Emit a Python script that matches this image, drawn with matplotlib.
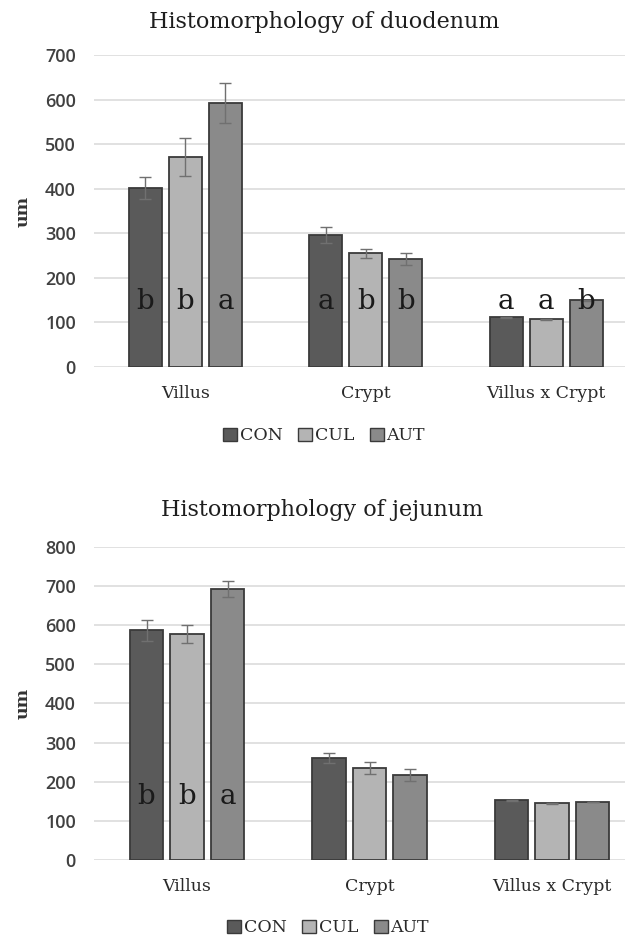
import matplotlib
matplotlib.use("Agg")
import matplotlib.pyplot as plt
import numpy as np
from matplotlib.patches import Patch

categories = ["Villus", "Crypt", "Villus x Crypt"]
groups = ["CON", "CUL", "AUT"]

# Duodenum means and standard errors (um)
duo_con = [401, 296, 112]
duo_cul = [471, 255, 107]
duo_aut = [592, 242, 150]
duo_con_err = [25, 18, 1]
duo_cul_err = [42, 10, 1]
duo_aut_err = [45, 13, 1]
duo_letters = [["b", "a", "a"], ["b", "b", "a"], ["a", "b", "b"]]
duo_letter_level = 146

# Jejunum means and standard errors (um)
jej_con = [587, 260, 153]
jej_cul = [577, 236, 145]
jej_aut = [692, 217, 148]
jej_con_err = [27, 13, 1]
jej_cul_err = [23, 15, 1]
jej_aut_err = [20, 15, 1]
jej_letters = [["b", "", ""], ["b", "", ""], ["a", "", ""]]
jej_letter_level = 161

colors = ["#5a5a5a", "#b4b4b4", "#8a8a8a"]
edge = "#3a3a3a"
serif = "DejaVu Serif"
sans = "Open Sans"

fig = plt.figure(figsize=(6.25, 9.41), dpi=100)


def panel(rect, title, means, errs, letters, level, ymax, xlim,
          title_xy, legend_xy):
    ax = fig.add_axes(rect)
    x = np.arange(len(categories))
    width = 0.182
    offsets = [-0.222, 0.0, 0.222]
    for i, (m, e) in enumerate(zip(means, errs)):
        xs = x + offsets[i]
        ax.bar(xs, m, width=width, color=colors[i], edgecolor=edge,
               linewidth=1.3, zorder=3, label=groups[i])
        ax.errorbar(xs, m, yerr=e, fmt="none", ecolor="#707070",
                    elinewidth=1.0, capsize=4, capthick=1.0, zorder=4)
        for j, lab in enumerate(letters[i]):
            if lab:
                ax.text(xs[j], level, lab, ha="center", va="center",
                        fontsize=20, family=serif, color="#1a1a1a", zorder=5)
    ax.set_ylim(0, ymax)
    ax.set_xlim(*xlim)
    ax.set_yticks(np.arange(0, ymax + 1, 100))
    ax.grid(axis="y", color="#dcdcdc", linewidth=1.2, zorder=0)
    ax.set_axisbelow(True)
    for s in ax.spines.values():
        s.set_visible(False)
    ax.tick_params(axis="y", length=0, pad=13, labelsize=13, labelcolor="#404040")
    for t in ax.get_yticklabels():
        t.set_family(sans)
        t.set_fontweight("semibold")
    ax.set_xticks(x)
    ax.set_xticklabels(categories, family=serif, fontsize=12.5, color="#2a2a2a")
    ax.tick_params(axis="x", length=0, pad=13)
    ax.set_ylabel("um", family=serif, fontsize=12.5, fontweight="bold",
                  color="#333333", labelpad=10)
    fig.text(title_xy[0], title_xy[1], title, ha="center", va="center",
             family=serif, fontsize=16, color="#1e1e1e")
    handles = [Patch(facecolor=colors[i], edgecolor=edge, linewidth=1.0, label=groups[i])
               for i in range(3)]
    leg = fig.legend(handles=handles, loc="center", bbox_to_anchor=legend_xy,
                     ncol=3, frameon=False, handlelength=0.8, handleheight=0.8,
                     handletextpad=0.15, columnspacing=0.9,
                     prop={"family": serif, "size": 12.5})
    for t in leg.get_texts():
        t.set_color("#2a2a2a")
    return ax


panel([94 / 625, 0.610, 1 - 94 / 625, 0.3316], "Histomorphology of duodenum",
      [duo_con, duo_cul, duo_aut], [duo_con_err, duo_cul_err, duo_aut_err],
      duo_letters, duo_letter_level, 700, (-0.507, 2.437),
      (324 / 625, 1 - 22 / 941), (324 / 625, 1 - 436 / 941))

panel([94 / 625, 0.0861, 1 - 94 / 625, 0.3326], "Histomorphology of jejunum",
      [jej_con, jej_cul, jej_aut], [jej_con_err, jej_cul_err, jej_aut_err],
      jej_letters, jej_letter_level, 800, (-0.51, 2.40),
      (322 / 625, 1 - 510 / 941), (328 / 625, 1 - 928 / 941))

fig.savefig("out.png", dpi=100, facecolor="white")
